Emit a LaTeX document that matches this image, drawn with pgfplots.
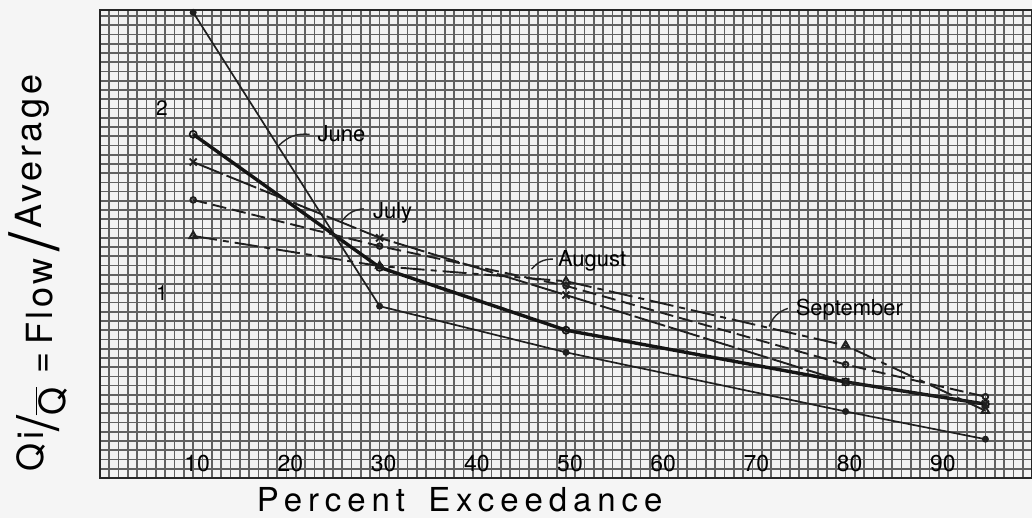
\documentclass[border=0pt]{standalone}
\usepackage{graphicx}
\usepackage{pgfplots}
\pgfplotsset{compat=1.18}
\usepackage{fontspec}
\setmainfont{TeX Gyre Heros}
\usetikzlibrary{calc,backgrounds}

\begin{document}
\begin{tikzpicture}[background rectangle/.style={fill=black!4}, show background rectangle, inner frame sep=0pt]
\begin{axis}[
  scale only axis, width=466pt, height=234pt,
  xmin=0, xmax=100, ymin=0, ymax=2.533,
  xtick={10,20,...,90}, ytick={1,2},
  minor xtick={0,1,...,100},
  minor ytick={0,0.05,...,2.55},
  grid=both,
  major grid style={black!62, line width=0.85pt},
  minor grid style={black!62, line width=0.85pt},
  major tick length=0pt, minor tick length=0pt,
  axis line style={black!85, line width=1.3pt},
  axis background/.style={fill=black!5},
  /pgf/number format/assume math mode=true,
  xticklabel style={anchor=center, yshift=7pt, xshift=2pt, font=\fontsize{11.5}{12}\selectfont},
  yticklabel style={anchor=center, xshift=31pt, font=\fontsize{10.5}{12}\selectfont},
  every axis x label/.style={at={(axis description cs:0.386,-0.047)}, anchor=center},
  every axis y label/.style={at={(axis description cs:-0.0665,0.438)}, rotate=90, anchor=center},
  xlabel={\fontsize{16.5}{18}\selectfont\addfontfeature{LetterSpace=18}Percent\hspace{0.7em}Exceedance},
  ylabel={\fontsize{18}{20}\selectfont\addfontfeature{LetterSpace=10}\raisebox{0.5ex}{Qi}\raisebox{-0.3ex}{\scalebox{1.6}{/}}\raisebox{-0.7ex}{$\overline{\mbox{Q}}$}\hspace{0.4em}=\hspace{0.2em}Flow\hspace{0.2em}\raisebox{-0.3ex}{\scalebox{1.9}{/}}\hspace{0.1em}\raisebox{0.6ex}{Average}},
]
% June
\addplot[black!88, line width=0.85pt, mark=*, mark size=1.3pt] coordinates {
  (10,2.52) (30,0.93) (50,0.68) (80,0.36) (95,0.21)};
% unlabeled thick series
\addplot[black!92, line width=1.7pt, mark=o, mark size=1.8pt, mark options={line width=0.8pt}] coordinates {
  (10,1.86) (30,1.14) (50,0.80) (80,0.52) (95,0.40)};
% July
\addplot[black!88, line width=0.95pt, dash pattern=on 16pt off 2pt, mark=x, mark size=2.5pt, mark options={solid}] coordinates {
  (10,1.71) (30,1.30) (50,0.99) (80,0.52) (95,0.40)};
% August
\addplot[black!88, line width=0.95pt, dash pattern=on 7pt off 3pt, mark=o, mark size=1.4pt, mark options={solid}] coordinates {
  (10,1.505) (30,1.255) (50,1.04) (80,0.614) (95,0.44)};
% September
\addplot[black!88, line width=0.95pt, dash pattern=on 12pt off 3pt on 3pt off 3pt, mark=triangle, mark size=2.2pt, mark options={solid}] coordinates {
  (10,1.31) (30,1.147) (50,1.065) (80,0.717) (95,0.364)};

\node[font=\fontsize{11}{12}\selectfont] at (axis cs:25.9,1.864) {June};
\draw[black!85, line width=0.7pt] (axis cs:19.2,1.80) to[bend left=25] (axis cs:22.5,1.86);
\node[font=\fontsize{11}{12}\selectfont] at (axis cs:31.4,1.435) {July};
\draw[black!85, line width=0.7pt] (axis cs:25.9,1.386) to[bend left=25] (axis cs:28.3,1.457);
\node[font=\fontsize{11}{12}\selectfont] at (axis cs:52.8,1.174) {August};
\draw[black!85, line width=0.7pt] (axis cs:46.3,1.13) to[bend left=25] (axis cs:48.6,1.185);
\node[font=\fontsize{11}{12}\selectfont] at (axis cs:80.4,0.913) {September};
\draw[black!85, line width=0.7pt] (axis cs:71.8,0.82) to[bend left=25] (axis cs:73.8,0.918);
\end{axis}
\pgfresetboundingbox
\path[use as bounding box] ($(current axis.south west)+(-50pt,-20pt)$) rectangle ($(current axis.north east)+(0pt,5pt)$);
\end{tikzpicture}
\end{document}
